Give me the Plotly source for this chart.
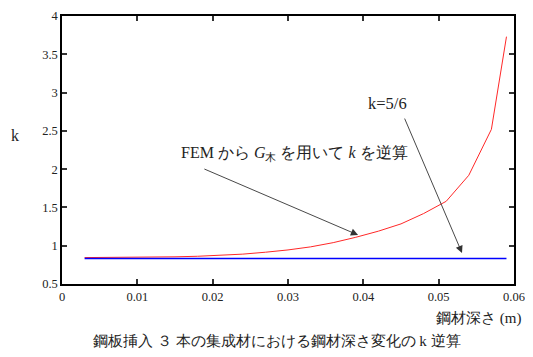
import plotly.graph_objects as go

depth_fem = [0.003, 0.006, 0.009, 0.012, 0.015, 0.018, 0.021, 0.024, 0.027, 0.030,
             0.033, 0.036, 0.039, 0.042, 0.045, 0.048, 0.051, 0.054, 0.057, 0.059]
k_fem = [0.845, 0.846, 0.848, 0.851, 0.855, 0.862, 0.872, 0.890, 0.915, 0.945,
         0.985, 1.040, 1.110, 1.190, 1.285, 1.420, 1.580, 1.920, 2.520, 3.730]
depth_const = [0.003, 0.059]
k_const = [5 / 6, 5 / 6]

x_ticks = [0, 0.01, 0.02, 0.03, 0.04, 0.05, 0.06]
x_tick_labels = ["0", "0.01", "0.02", "0.03", "0.04", "0.05", "0.06"]
y_ticks = [0.5, 1, 1.5, 2, 2.5, 3, 3.5, 4]
y_tick_labels = ["0.5", "1", "1.5", "2", "2.5", "3", "3.5", "4"]

SERIF = "Liberation Serif"

# page body has an 8px margin; figure is sized so the page fits the window
OFF = 8
W, H = 533 - 2 * OFF, 357 - 2 * OFF
PL, PT, PR, PB = 62, 16, 514, 284  # plot box in window pixels
ml, mt = PL - OFF, PT - OFF
mr, mb = W - (PR - OFF), H - (PB - OFF)

fig = go.Figure()
fig.add_trace(go.Scatter(x=depth_fem, y=k_fem, mode="lines",
                         line=dict(color="rgb(255,40,40)", width=1), showlegend=False))
fig.add_trace(go.Scatter(x=depth_const, y=k_const, mode="lines",
                         line=dict(color="rgb(0,0,255)", width=1.6), showlegend=False))

axis_common = dict(showgrid=False, zeroline=False, showline=True, linecolor="black",
                   linewidth=1.5, mirror="ticks", ticks="inside", ticklen=5,
                   tickcolor="#333", tickwidth=1.5, ticklabeloverflow="allow",
                   automargin=False,
                   tickfont=dict(family=SERIF, size=12.5, color="#222"))

fig.update_xaxes(range=[0, 0.06], tickvals=x_ticks, ticktext=x_tick_labels, **axis_common)
fig.update_yaxes(range=[0.5, 4], tickvals=y_ticks, ticktext=y_tick_labels, **axis_common)

fig.update_layout(
    width=W, height=H,
    margin=dict(l=ml, r=mr, t=mt, b=mb, pad=0, autoexpand=False),
    plot_bgcolor="white", paper_bgcolor="white",
    font=dict(family=SERIF, color="#222"),
)

arrow_style = dict(showarrow=True, arrowhead=2, arrowsize=1.6, arrowwidth=0.9,
                   arrowcolor="#333", text="", xref="x", yref="y", axref="x", ayref="y")
annotations = [
    dict(x=0.0393, y=1.14, ax=0.0187, ay=2.01, **arrow_style),
    dict(x=0.0531, y=0.905, ax=0.0454, ay=2.68, **arrow_style),
]

# text labels placed by window pixel position (converted to paper coordinates)
labels = [
    (294, 153, "center", "FEM から <i>G</i><sub>木</sub> を用いて <i>k</i> を逆算", 16),
    (387, 103, "center", "k=5/6", 16.5),
    (15, 136, "center", "k", 16),
    (523, 318, "right", "鋼材深さ (m)", 15),
    (277, 341, "center", "鋼板挿入 ３ 本の集成材における鋼材深さ変化の k 逆算", 15),
]
pw, ph = PR - PL, PB - PT
for px, py, anchor, txt, size in labels:
    annotations.append(dict(
        x=(px - PL) / pw, y=(PB - py) / ph, xref="paper", yref="paper",
        xanchor=anchor, yanchor="middle", showarrow=False, text=txt,
        font=dict(family=SERIF, size=size, color="#222")))
fig.update_layout(annotations=annotations)

fig.write_html("out.html")
